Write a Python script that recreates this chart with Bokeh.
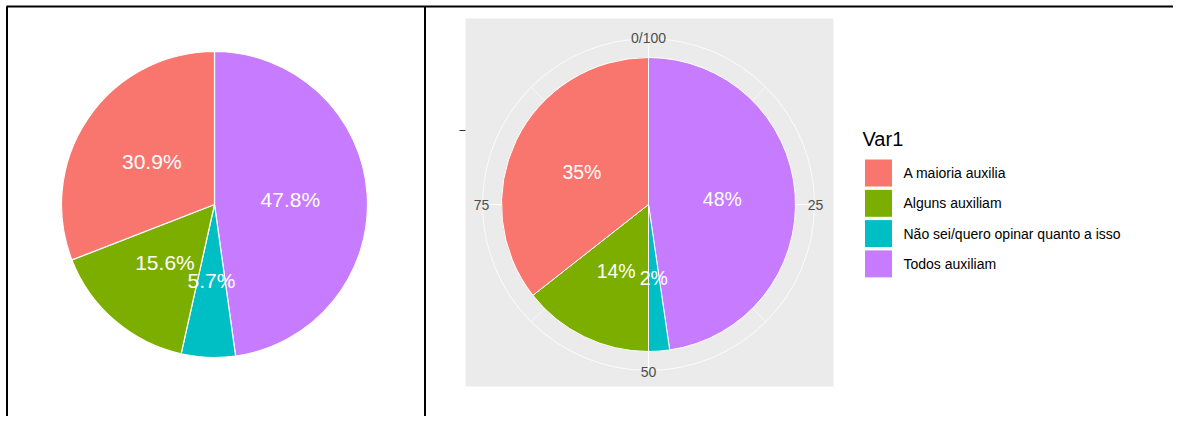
import math
from bokeh.plotting import figure
from bokeh.models import Range1d
from bokeh.core.properties import value
from bokeh.embed import file_html
from bokeh.resources import INLINE

# ---------------- data ----------------
categories = ["A maioria auxilia", "Alguns auxiliam",
              "Não sei/quero opinar quanto a isso", "Todos auxiliam"]
colors = ["#F8766D", "#7CAE00", "#00BFC4", "#C77CFF"]
left_values = [30.9, 15.6, 5.7, 47.8]
left_labels = ["30.9%", "15.6%", "5.7%", "47.8%"]
right_values = [35.6, 14.4, 2.3, 47.7]
right_labels = ["35%", "14%", "2%", "48%"]
theta_ticks = [0, 25, 50, 75]
theta_tick_labels = ["0/100", "25", "50", "75"]
legend_title = "Var1"

# ---------------- canvas (pixel-like coordinates) ----------------
W, H = 1173, 416


def Y(img_y):
    return H - img_y


p = figure(width=W, height=H, output_backend="svg", toolbar_location=None,
           x_range=Range1d(0, W), y_range=Range1d(0, H),
           min_border=0)
p.axis.visible = False
p.grid.visible = False
p.outline_line_color = None
p.background_fill_color = "white"
p.border_fill_color = "white"

FONT = value("Liberation Sans")

# table borders
p.segment(x0=[6, 6.5, 424.5], y0=[Y(6), Y(6), Y(6)], x1=[W, 6.5, 424.5], y1=[Y(6), Y(H), Y(H)],
          line_color="black", line_width=2)


def pie(cx, cy_img, r, vals, labels, lab_r, font_size, border_w):
    cy = Y(cy_img)
    order = list(range(len(vals)))[::-1]   # stacked: last level starts at top
    total = sum(vals)
    cum = 0.0
    xs, ys, sa, ea, cols = [], [], [], [], []
    lx, ly, lt = [], [], []
    for i in order:
        f0 = cum / total
        cum += vals[i]
        f1 = cum / total
        sa.append(math.pi / 2 - 2 * math.pi * f1)
        ea.append(math.pi / 2 - 2 * math.pi * f0)
        cols.append(colors[i])
        xs.append(cx)
        ys.append(cy)
        fm = (f0 + f1) / 2
        lx.append(cx + lab_r * math.sin(2 * math.pi * fm))
        ly.append(cy + lab_r * math.cos(2 * math.pi * fm))
        lt.append(labels[i])
    p.wedge(x=xs, y=ys, radius=r, radius_units="screen", start_angle=sa, end_angle=ea,
            fill_color=cols, line_color="white", line_width=border_w)
    p.text(x=lx, y=ly, text=lt, text_color="white", text_font=FONT,
           text_font_size=font_size, text_align="center", text_baseline="middle")


# ---------------- left pie ----------------
pie(214, 204, 153, left_values, left_labels, 76, "21px", 1.2)

# ---------------- right (ggplot style polar) ----------------
px0, px1, py0, py1 = 465, 833, 18, 386
p.quad(left=[px0], right=[px1], top=[Y(py0)], bottom=[Y(py1)],
       fill_color="#EBEBEB", line_color=None)
rcx, rcy_img = 648, 204
rcy = Y(rcy_img)
R_OUT = 166
# theta gridlines (major + minor)
for t in theta_ticks:
    for tt, lw in ((t, 1.1), (t + 12.5, 0.55)):
        a = 2 * math.pi * tt / 100
        p.segment(x0=[rcx], y0=[rcy], x1=[rcx + R_OUT * math.sin(a)], y1=[rcy + R_OUT * math.cos(a)],
                  line_color="white", line_width=lw)
p.circle(x=[rcx, rcx], y=[rcy, rcy], radius=[R_OUT, 74], radius_units="screen",
         fill_color=None, line_color="white", line_width=1.0, line_alpha=0.8)

pie(rcx, rcy_img, 147, right_values, right_labels, 74, "19.5px", 1.0)

# theta axis labels
tx = [rcx + 167 * math.sin(2 * math.pi * t / 100) for t in theta_ticks]
ty = [rcy + 167 * math.cos(2 * math.pi * t / 100) for t in theta_ticks]
p.text(x=tx, y=ty, text=theta_tick_labels, text_color="#4D4D4D", text_font=FONT,
       text_font_size="14px", text_align="center", text_baseline="middle")

# r-axis tick (empty label)
p.segment(x0=[459], y0=[Y(130)], x1=[465], y1=[Y(130)], line_color="#333333", line_width=1)

# ---------------- legend ----------------
p.text(x=[862], y=[Y(138)], text=[legend_title], text_color="black", text_font=FONT,
       text_font_size="20px", text_align="left", text_baseline="middle")
key_y = [Y(172.5 + 30.3 * i) for i in range(len(categories))]
p.rect(x=[878] * len(categories), y=key_y, width=28, height=28,
       width_units="screen", height_units="screen",
       fill_color=colors, line_color="white", line_width=1)
p.text(x=[903] * len(categories), y=key_y, text=categories, text_color="black", text_font=FONT,
       text_font_size="14px", text_align="left", text_baseline="middle")

open("out.html", "w").write(file_html(p, INLINE))
